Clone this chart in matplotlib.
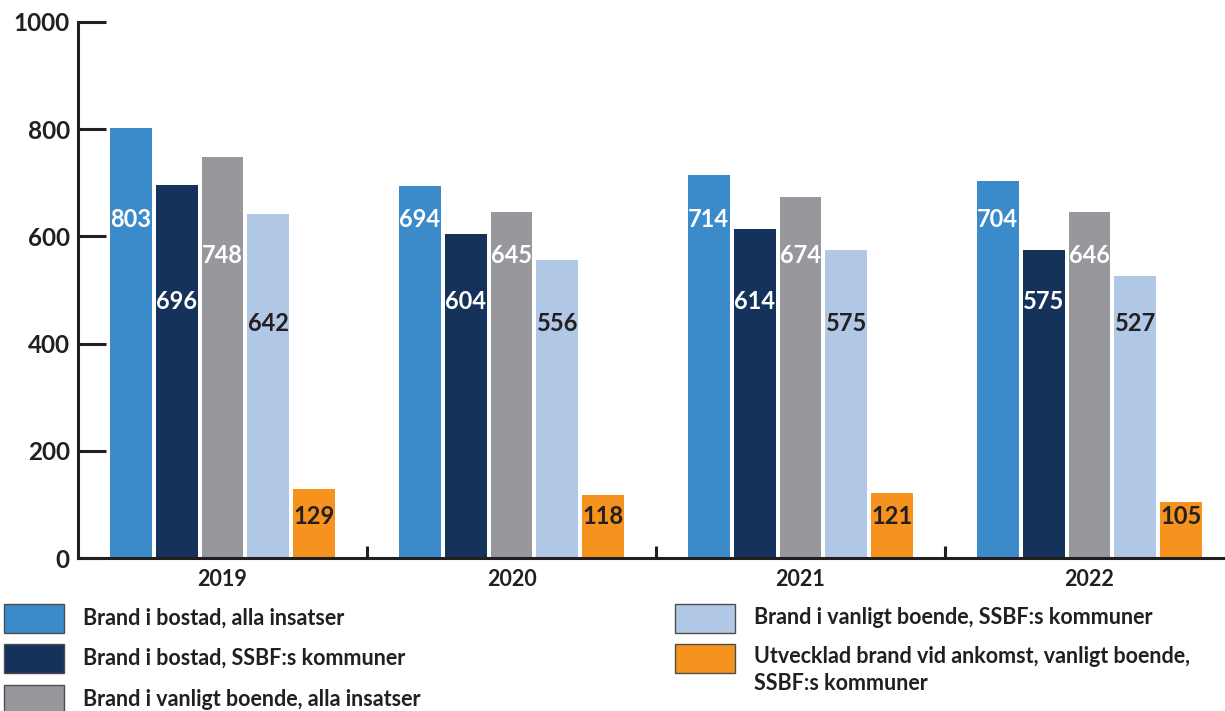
import numpy as np
import matplotlib
matplotlib.use("Agg")
import matplotlib.pyplot as plt
from matplotlib.patches import Rectangle

plt.rcParams['font.family'] = ['Lato', 'DejaVu Sans']

# Data
years = ['2019', '2020', '2021', '2022']
series_names = [
    'Brand i bostad, alla insatser',
    'Brand i bostad, SSBF:s kommuner',
    'Brand i vanligt boende, alla insatser',
    'Brand i vanligt boende, SSBF:s kommuner',
    'Utvecklad brand vid ankomst, vanligt boende,\nSSBF:s kommuner',
]
bostad_alla = [803, 694, 714, 704]
bostad_ssbf = [696, 604, 614, 575]
boende_alla = [748, 645, 674, 646]
boende_ssbf = [642, 556, 575, 527]
utvecklad_ssbf = [129, 118, 121, 105]
yticks = [0, 200, 400, 600, 800, 1000]

# Style
COLORS = ['#3b8bca', '#15325b', '#97989c', '#b0c7e6', '#f6921e']
TEXT_COLORS = ['white', 'white', 'white', '#231f20', '#231f20']
LABEL_Y = [632, 479, 565, 438, 77]   # fixed label height per series
DARK = '#231f20'

series = [bostad_alla, bostad_ssbf, boende_alla, boende_ssbf, utvecklad_ssbf]

fig = plt.figure(figsize=(12.25, 7.11), dpi=100)
ax = fig.add_axes([78 / 1225, 1 - 558 / 711, 1156 / 1225, 536 / 711])

x = np.arange(len(years))
step = 0.159
width = 0.145
for i, vals in enumerate(series):
    pos = x + (i - 2) * step
    ax.bar(pos, vals, width=width, color=COLORS[i], zorder=2)
    for p, v in zip(pos, vals):
        ax.text(p, LABEL_Y[i], str(v), ha='center', va='center',
                color=TEXT_COLORS[i], fontsize=17, fontweight='bold', zorder=3)

ax.set_xlim(-0.5, 3.5)
ax.set_ylim(0, 1000)
ax.set_yticks(yticks)
ax.set_yticklabels([str(t) for t in yticks])
ax.set_xticks(x)
ax.set_xticklabels(years)
ax.set_xticks([0.5, 1.5, 2.5], minor=True)

for s in ['top', 'right']:
    ax.spines[s].set_visible(False)
for s in ['left', 'bottom']:
    ax.spines[s].set_linewidth(2.2)
    ax.spines[s].set_color(DARK)

ax.tick_params(axis='y', direction='in', length=20, width=2.2, color=DARK,
               labelsize=17.5, labelcolor=DARK, pad=6)
ax.tick_params(axis='x', which='major', length=0, labelsize=15.5,
               labelcolor=DARK, pad=8)
ax.tick_params(axis='x', which='minor', direction='in', length=9, width=2.2,
               color=DARK)
for lbl in ax.get_yticklabels() + ax.get_xticklabels():
    lbl.set_fontweight('bold')

# Legend drawn by hand in figure pixels
W, H = 1225, 711
legend_pos = [(4, 618), (4, 658), (4, 699), (675, 618), (675, 658)]
for i, (lx, ly) in enumerate(legend_pos):
    fig.patches.append(Rectangle((lx / W, 1 - (ly + 14.5) / H), 60 / W, 29 / H,
                                 transform=fig.transFigure, facecolor=COLORS[i],
                                 edgecolor='#4d4d4d', linewidth=1))
    va = 'center' if '\n' not in series_names[i] else 'top'
    ty = ly if va == 'center' else ly - 12
    fig.text((lx + 79) / W, 1 - ty / H, series_names[i], ha='left', va=va,
             fontsize=15.5, fontweight='bold', color=DARK, linespacing=1.35)

fig.savefig('out.png', dpi=100)
